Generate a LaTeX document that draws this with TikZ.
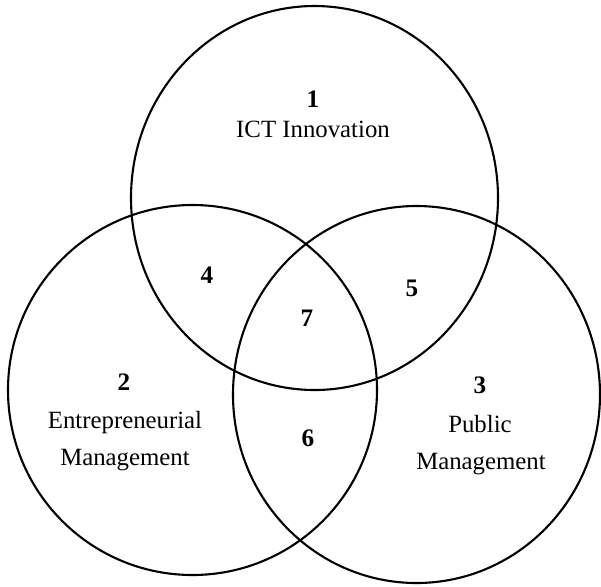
\documentclass[tikz,border=0pt]{standalone}
\usepackage{fontspec}
\setmainfont{Liberation Serif}
\usetikzlibrary{shapes.geometric}
\begin{document}
\begin{tikzpicture}[x=0.5pt,y=-0.5pt,
  setring/.style={draw=black, line width=1.05pt, ellipse, inner sep=0pt},
  num/.style={anchor=base, inner sep=0pt, font=\fontsize{12.6}{14}\selectfont\bfseries},
  lbl/.style={anchor=base, inner sep=0pt, font=\fontsize{12.4}{14}\selectfont}]
  \useasboundingbox (0,0) rectangle (601,586);

  % the three sets
  \node[setring, minimum width=183.5pt, minimum height=192pt] (ict) at (314.5,198) {};
  \node[setring, minimum width=184.5pt, minimum height=185pt] (ent) at (192.5,390) {};
  \node[setring, minimum width=183.5pt, minimum height=188.5pt] (pub) at (416.5,394.5) {};

  % set labels
  \node[num] (n1) at (313,107) {1};
  \node[lbl] (t1) at (313,137) {ICT Innovation};

  \node[num] (n2) at (124,390) {2};
  \node[lbl] (t2a) at (125,428) {Entrepreneurial};
  \node[lbl] (t2b) at (125,465) {Management};

  \node[num] (n3) at (480,393) {3};
  \node[lbl] (t3a) at (480,432) {Public};
  \node[lbl] (t3b) at (481,469) {Management};

  % overlap regions
  \node[num] (n4) at (207,283) {4};
  \node[num] (n5) at (412,296) {5};
  \node[num] (n6) at (308,446) {6};
  \node[num] (n7) at (307,326) {7};
\end{tikzpicture}
\end{document}
